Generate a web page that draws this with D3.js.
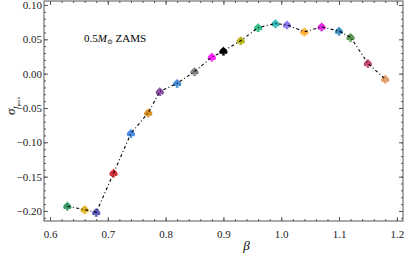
<!DOCTYPE html>
<html>
<head>
<meta charset="utf-8">
<script src="https://cdn.jsdelivr.net/npm/d3@7"></script>
<style>
  body { margin: 0; background: #fff; }
  text { font-family: "Liberation Serif", "DejaVu Serif", serif; }
</style>
</head>
<body>
<div id="chart"></div>
<script>
// values
var beta = [0.63, 0.66, 0.68, 0.71, 0.74, 0.77, 0.79, 0.82, 0.85, 0.88, 0.90,
            0.93, 0.96, 0.99, 1.01, 1.04, 1.07, 1.10, 1.12, 1.15, 1.18];
var sigma = [-0.193, -0.198, -0.202, -0.145, -0.087, -0.057, -0.026, -0.014, 0.003, 0.024, 0.033,
             0.048, 0.067, 0.073, 0.071, 0.061, 0.068, 0.062, 0.053, 0.015, -0.008];
var colors = ["#3a9a68", "#e2b226", "#5a5ab8", "#d8303a", "#4a8ee8", "#d8901e", "#8e52a6",
              "#4a8ed8", "#808080", "#ff22ff", "#000000", "#b8b41e", "#3cc08a", "#36b8b8",
              "#8a7cf0", "#ffb23c", "#e028e0", "#3e8cc0", "#5a9650", "#c04a6a", "#e0a070"];
var xTicks = [0.6, 0.7, 0.8, 0.9, 1.0, 1.1, 1.2];
var yTicks = [-0.20, -0.15, -0.10, -0.05, 0.00, 0.05, 0.10];

var svgWidth = 404;
var svgHeight = 253;
var margin = { top: 1, right: 1, bottom: 32, left: 44 };
var chartWidth = svgWidth - margin.left - margin.right;
var chartHeight = svgHeight - margin.top - margin.bottom;

var svg = d3.select("#chart")
  .append("svg")
  .attr("width", svgWidth)
  .attr("height", svgHeight);

var chartGroup = svg.append("g")
  .attr("transform", `translate(${margin.left}, ${margin.top})`);

var xScale = d3.scaleLinear()
  .domain([0.5896, 1.2107])
  .range([0, chartWidth]);

var yScale = d3.scaleLinear()
  .domain([-0.2146, 0.1058])
  .range([chartHeight, 0]);

// minor ticks
var xMinor = d3.range(0.6, 1.201, 0.02);
var yMinor = d3.range(-0.21, 0.101, 0.01);

var frameColor = "#555";

function inwardAxis(axis, transform) {
  var g = chartGroup.append("g").attr("transform", transform).call(axis);
  g.select(".domain").remove();
  g.selectAll("line").attr("stroke", frameColor);
  return g;
}

// bottom
inwardAxis(d3.axisBottom(xScale).tickValues(xMinor).tickSize(-2).tickFormat(""), `translate(0,${chartHeight})`);
var bx = inwardAxis(d3.axisBottom(xScale).tickValues(xTicks).tickSize(-4).tickPadding(9)
  .tickFormat(d3.format(".1f")), `translate(0,${chartHeight})`);
bx.selectAll("text").attr("font-size", 11).attr("fill", "#222")
  .attr("font-family", "Liberation Serif, serif");
// top
inwardAxis(d3.axisTop(xScale).tickValues(xMinor).tickSize(-2).tickFormat(""), "translate(0,0)");
inwardAxis(d3.axisTop(xScale).tickValues(xTicks).tickSize(-4).tickFormat(""), "translate(0,0)");
// left
inwardAxis(d3.axisLeft(yScale).tickValues(yMinor).tickSize(-2).tickFormat(""), "translate(0,0)");
var ly = inwardAxis(d3.axisLeft(yScale).tickValues(yTicks).tickSize(-4).tickPadding(2)
  .tickFormat(d => d3.format(".2f")(d).replace("-", "\u2212")), "translate(0,0)");
ly.selectAll("text").attr("font-size", 11).attr("fill", "#222")
  .attr("font-family", "Liberation Serif, serif");
// right
inwardAxis(d3.axisRight(yScale).tickValues(yMinor).tickSize(-2).tickFormat(""), `translate(${chartWidth},0)`);
inwardAxis(d3.axisRight(yScale).tickValues(yTicks).tickSize(-4).tickFormat(""), `translate(${chartWidth},0)`);

// frame
chartGroup.append("rect")
  .attr("x", 0).attr("y", 0)
  .attr("width", chartWidth).attr("height", chartHeight)
  .attr("fill", "none")
  .attr("stroke", frameColor)
  .attr("stroke-width", 1);

var points = beta.map((b, i) => ({ x: b, y: sigma[i], c: colors[i] }));

// spade markers
var spade = "M0,-4.6 C1.2,-2.6 4.6,-1.2 4.1,1.4 C3.7,3.3 1.6,3.3 0.7,2 L1.6,4.4 L-1.6,4.4 L-0.7,2 " +
            "C-1.6,3.3 -3.7,3.3 -4.1,1.4 C-4.6,-1.2 -1.2,-2.6 0,-4.6 Z";
chartGroup.selectAll("path.marker")
  .data(points)
  .enter()
  .append("path")
  .attr("class", "marker")
  .attr("d", spade)
  .attr("transform", d => `translate(${xScale(d.x)},${yScale(d.y)})`)
  .attr("fill", d => d.c);

// dash-dot connecting line
var line = d3.line()
  .x(d => xScale(d.x))
  .y(d => yScale(d.y));
chartGroup.append("path")
  .datum(points)
  .attr("d", line)
  .attr("fill", "none")
  .attr("stroke", "#000")
  .attr("stroke-width", 1.1)
  .attr("stroke-dasharray", "3,2.5,1,2.5");

// annotation
var ann = chartGroup.append("text")
  .attr("x", 40)
  .attr("y", 41)
  .attr("font-size", 11)
  .attr("fill", "#000");
ann.append("tspan").text("0.5");
ann.append("tspan").attr("font-style", "italic").text("M");
ann.append("tspan").attr("font-size", 7).attr("dy", 2).text("\u2299");
ann.append("tspan").attr("dy", -2).text(" ZAMS");

// axis labels
svg.append("text")
  .attr("x", margin.left + xScale(0.94))
  .attr("y", 250)
  .attr("text-anchor", "middle")
  .attr("font-size", 13)
  .attr("font-style", "italic")
  .text("\u03B2");

var yl = svg.append("text")
  .attr("transform", `translate(15, ${margin.top + yScale(-0.05) - 2}) rotate(-90)`)
  .attr("text-anchor", "middle")
  .attr("font-size", 13);
yl.append("tspan").attr("font-style", "italic").text("\u03C3");
yl.append("tspan").attr("font-size", 8).attr("font-style", "italic").attr("dy", 3).text("t");
yl.append("tspan").attr("font-size", 5).attr("dy", 1.5).text("peak");
</script>
</body>
</html>
